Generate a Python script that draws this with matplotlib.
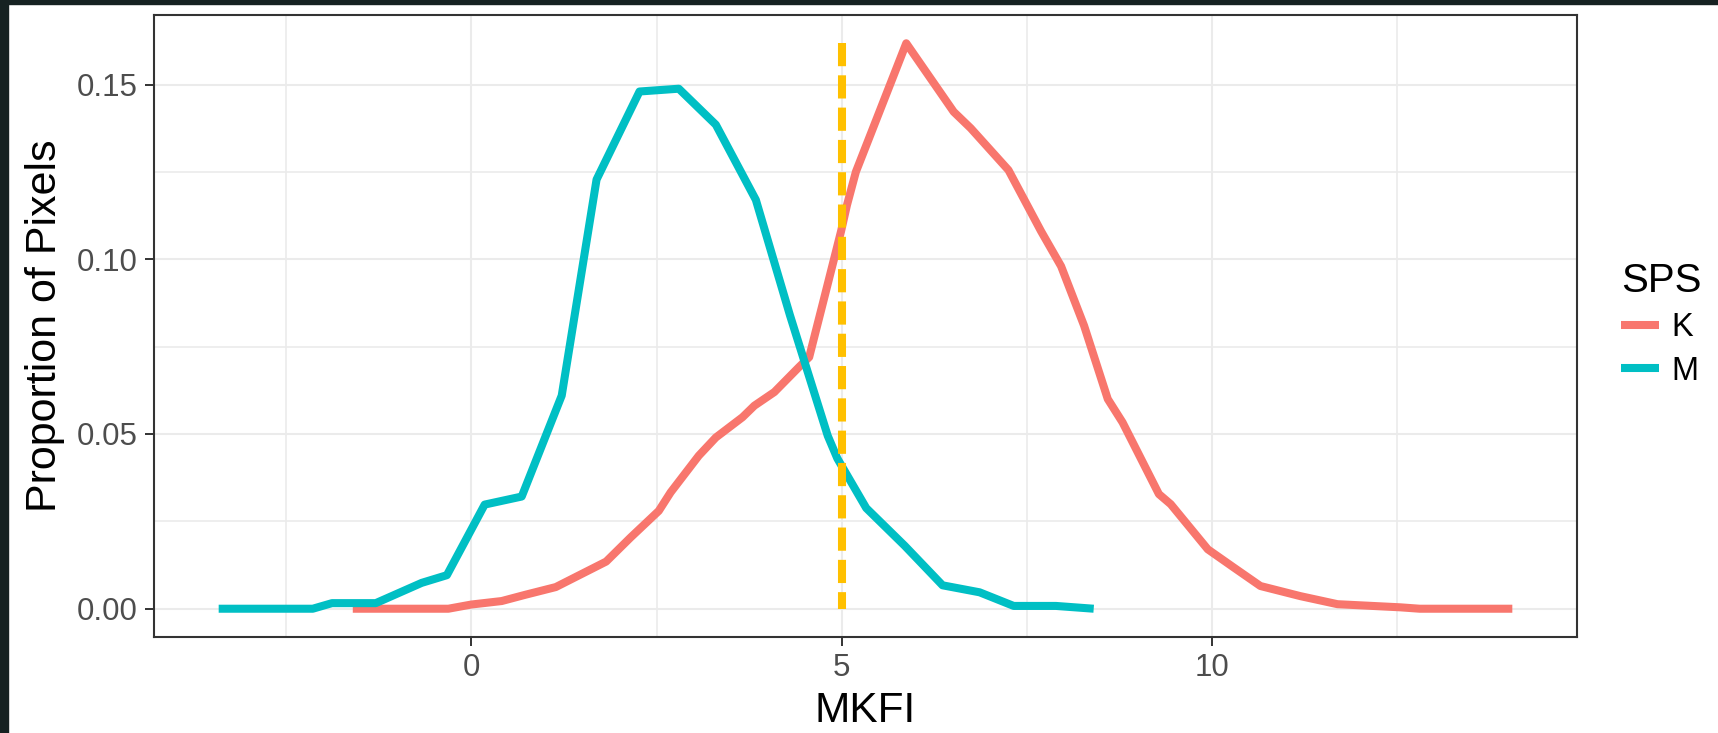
import matplotlib.pyplot as plt
from matplotlib.patches import Rectangle

plt.rcParams['font.family'] = ['Liberation Sans', 'DejaVu Sans']

# SPS = K
k_x = [-1.60, -0.31, 0.00, 0.41, 0.73, 1.14, 1.82, 2.15, 2.53, 2.69, 3.07, 3.30,
       3.66, 3.82, 4.09, 4.42, 4.56, 4.76, 4.99, 5.07, 5.19, 5.87,
       6.51, 6.74, 7.25, 7.69, 7.96, 8.27, 8.59, 8.79, 9.28, 9.44, 9.94, 10.29,
       10.65, 11.19, 11.69, 12.54, 12.80, 14.05]
k_y = [0.0, 0.0, 0.0012, 0.0022, 0.0040, 0.0062, 0.0135, 0.0204, 0.0280, 0.0333,
       0.0438, 0.0490, 0.0548, 0.0581, 0.0620, 0.0691, 0.0720, 0.0887, 0.1080,
       0.1155, 0.1250, 0.1618, 0.1422, 0.1375, 0.1255, 0.1080,
       0.0980, 0.0810, 0.0600, 0.0533, 0.0328, 0.0299, 0.0170, 0.0118, 0.0065,
       0.0036, 0.0013, 0.0004, 0.0, 0.0]

# SPS = M
m_x = [-3.41, -2.14, -1.88, -1.29, -0.67, -0.33, 0.18, 0.68, 1.22, 1.69, 2.27,
       2.80, 3.30, 3.84, 4.30, 4.81, 4.94, 5.33, 5.85, 6.36, 6.86, 7.32, 7.89,
       8.40]
m_y = [0.0, 0.0, 0.0016, 0.0016, 0.0074, 0.0096, 0.0298, 0.0321, 0.0610, 0.1228,
       0.1480, 0.1488, 0.1385, 0.1170, 0.0840, 0.0495, 0.0430, 0.0288, 0.0180,
       0.0067, 0.0047, 0.0008, 0.0008, 0.0]

cutoff = 5
x_ticks = [0, 5, 10]
x_minor = [-2.5, 2.5, 7.5, 12.5]
y_ticks = [0.00, 0.05, 0.10, 0.15]
y_minor = [0.025, 0.075, 0.125]

W, H = 1718, 733
fig = plt.figure(figsize=(W / 100, H / 100), dpi=100)
fig.patch.set_facecolor('white')
# dark screenshot frame (left and top)
fig.patches.append(Rectangle((0, 0), 8 / W, 1, transform=fig.transFigure,
                             color='#162222', zorder=0))
fig.patches.append(Rectangle((0, 1 - 4 / H), 1, 4 / H, transform=fig.transFigure,
                             color='#162222', zorder=0))

ax = fig.add_axes([154 / W, 1 - 637 / H, (1577 - 154) / W, (637 - 15) / H])

lk, = ax.plot(k_x, k_y, color='#F8766D', lw=5.8, solid_capstyle='butt',
              solid_joinstyle='round', label='K', zorder=3)
lm, = ax.plot(m_x, m_y, color='#00BFC4', lw=5.8, solid_capstyle='butt',
              solid_joinstyle='round', label='M', zorder=3)
top = max(k_y + m_y)
ax.plot([cutoff, cutoff], [top, 0], color='#FFC000', lw=5.8,
        dashes=(2.88, 1.13), dash_capstyle='butt', zorder=4)

xmin = min(m_x + k_x)
xmax = max(m_x + k_x)
dx = (xmax - xmin) * 0.05
ax.set_xlim(xmin - dx, xmax + dx)
ax.set_ylim(-top * 0.05, top * 1.05)

ax.set_xticks(x_ticks)
ax.set_xticks(x_minor, minor=True)
ax.set_yticks(y_ticks)
ax.set_yticks(y_minor, minor=True)
ax.set_yticklabels(['%.2f' % v for v in y_ticks])
ax.grid(which='major', color='#EBEBEB', lw=1.5)
ax.grid(which='minor', color='#EBEBEB', lw=1.2)
ax.set_axisbelow(True)
ax.tick_params(which='major', length=6.5, width=1.4, color='#333333',
               labelsize=22.5, labelcolor='#4D4D4D', pad=5)
ax.tick_params(which='minor', length=0)
for s in ax.spines.values():
    s.set_color('#333333')
    s.set_linewidth(1.5)

ax.set_xlabel('MKFI', fontsize=30.5, labelpad=6)
ax.set_ylabel('Proportion of Pixels', fontsize=31, labelpad=9)

leg = fig.legend(handles=[lk, lm], title='SPS', loc='upper left',
                 bbox_to_anchor=(1621 / W, 1 - 262 / H), frameon=False,
                 fontsize=23.5, title_fontsize=29, handlelength=1.15,
                 handletextpad=0.4, labelspacing=0.38, borderpad=0,
                 borderaxespad=0, alignment='left')

fig.savefig('out.png', dpi=100)
